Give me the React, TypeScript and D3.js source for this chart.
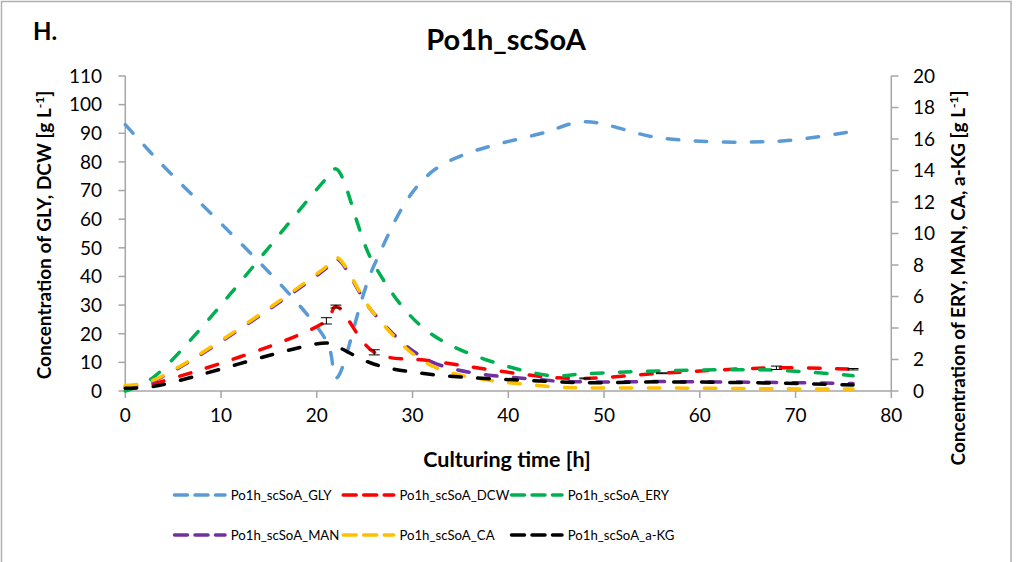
import React from "react";
import * as d3 from "d3";

const times = [0, 3, 21, 22, 26, 32, 44, 48, 56, 68, 76];
const gly = [93, 82, 17.5, 4.5, 44, 76.5, 90.5, 94, 88.3, 87.2, 90.7];
const dcw = [1, 2.6, 24.5, 29.5, 13.5, 10.5, 4.9, 4.4, 6.2, 8.1, 7.6];
const dcwErr = [0, 0, 1.1, 0.5, 0.9, 0, 0, 0.15, 0.15, 0.6, 0.25];
const ery = [0, 0.9, 13.5, 14.1, 8.0, 3.6, 1.0, 1.1, 1.28, 1.32, 0.97];
const man = [0.3, 0.65, 7.8, 8.4, 4.9, 1.85, 0.68, 0.58, 0.6, 0.54, 0.47];
const ca = [0.35, 0.7, 7.9, 8.5, 4.9, 1.6, 0.3, 0.2, 0.19, 0.14, 0.12];
const akg = [0.17, 0.3, 3.05, 2.85, 1.7, 1.05, 0.62, 0.53, 0.58, 0.5, 0.38];

const xTicks = [0, 10, 20, 30, 40, 50, 60, 70, 80];
const leftTicks = [0, 10, 20, 30, 40, 50, 60, 70, 80, 90, 100, 110];
const rightTicks = [0, 2, 4, 6, 8, 10, 12, 14, 16, 18, 20];

const seriesDefs = [
  { name: "Po1h_scSoA_GLY", values: gly, axis: "left", color: "#5B9BD5" },
  { name: "Po1h_scSoA_DCW", values: dcw, axis: "left", color: "#FF0000" },
  { name: "Po1h_scSoA_ERY", values: ery, axis: "right", color: "#00B050" },
  { name: "Po1h_scSoA_MAN", values: man, axis: "right", color: "#7030A0" },
  { name: "Po1h_scSoA_CA", values: ca, axis: "right", color: "#FFC000" },
  { name: "Po1h_scSoA_a-KG", values: akg, axis: "right", color: "#000000" },
];

const FONT = "Lato, 'Liberation Sans', sans-serif";
const AXIS = "#a6a6a6";

export default function App() {
  const x = d3.scaleLinear().domain([0, 80]).range([125.3, 891.3]);
  const yL = d3.scaleLinear().domain([0, 110]).range([391, 76]);
  const yR = d3.scaleLinear().domain([0, 20]).range([391, 76]);

  const mkLine = (ys: d3.ScaleLinear<number, number>) =>
    d3
      .line<[number, number]>()
      .x((d) => x(d[0]))
      .y((d) => ys(d[1]))
      .curve(d3.curveCatmullRom.alpha(0.5));

  const legendCols = [173, 341.7, 510];
  const legendRows = [495, 535];

  return (
    <svg
      width={1016}
      height={562}
      style={{ position: "absolute", left: 0, top: 0, background: "#fff" }}
      fontFamily={FONT}
    >
      <rect x={0} y={0} width={1016} height={562} fill="#fff" />
      <rect x={1.5} y={1.5} width={1009.5} height={575} fill="none" stroke="#b0b0b0" strokeWidth={1.5} />

      <text x={33} y={40} fontSize={24} fontWeight="bold">H.</text>
      <text x={506} y={50} fontSize={29} fontWeight="bold" textAnchor="middle">Po1h_scSoA</text>

      {/* axes */}
      <line x1={125.3} y1={76} x2={125.3} y2={391} stroke={AXIS} strokeWidth={1.5} />
      <line x1={891.3} y1={76} x2={891.3} y2={391} stroke={AXIS} strokeWidth={1.5} />
      <line x1={125.3} y1={391} x2={891.3} y2={391} stroke={AXIS} strokeWidth={1.5} />
      {leftTicks.map((t) => (
        <g key={"l" + t}>
          <line x1={118.5} x2={125.3} y1={yL(t)} y2={yL(t)} stroke={AXIS} strokeWidth={1.5} />
          <text x={102} y={yL(t) + 6.8} fontSize={19} textAnchor="end">{t}</text>
        </g>
      ))}
      {rightTicks.map((t) => (
        <g key={"r" + t}>
          <line x1={891.3} x2={898.5} y1={yR(t)} y2={yR(t)} stroke={AXIS} strokeWidth={1.5} />
          <text x={913} y={yR(t) + 6.8} fontSize={19} textAnchor="start">{t}</text>
        </g>
      ))}
      {xTicks.map((t) => (
        <g key={"x" + t}>
          <line x1={x(t)} x2={x(t)} y1={391} y2={398} stroke={AXIS} strokeWidth={1.5} />
          <text x={x(t)} y={422} fontSize={19} textAnchor="middle">{t}</text>
        </g>
      ))}

      {/* axis titles */}
      <text x={507} y={467} fontSize={21.5} fontWeight="bold" textAnchor="middle">Culturing time [h]</text>
      <text transform="translate(51,235) rotate(-90)" fontSize={19} fontWeight="bold" textAnchor="middle">
        Concentration of GLY, DCW [g L<tspan dy={-7} fontSize={12}>-1</tspan><tspan dy={7}>]</tspan>
      </text>
      <text transform="translate(965,278) rotate(-90)" fontSize={19} fontWeight="bold" textAnchor="middle">
        Concentration of ERY, MAN, CA, a-KG [g L<tspan dy={-7} fontSize={12}>-1</tspan><tspan dy={7}>]</tspan>
      </text>

      {/* series */}
      {seriesDefs.map((s) => {
        const pts = times.map((t, i) => [t, s.values[i]] as [number, number]);
        const gen = mkLine(s.axis === "left" ? yL : yR);
        return (
          <path
            key={s.name}
            d={gen(pts) || ""}
            fill="none"
            stroke={s.color}
            strokeWidth={3.5}
            strokeDasharray="11.5 16.5"
            strokeLinecap="round"
          />
        );
      })}

      {/* DCW error bars */}
      {times.map((t, i) =>
        dcwErr[i] > 0 ? (
          <g key={"e" + i} stroke="#000" strokeWidth={1}>
            <line x1={x(t)} x2={x(t)} y1={yL(dcw[i] - dcwErr[i])} y2={yL(dcw[i] + dcwErr[i])} />
            <line x1={x(t) - 5.5} x2={x(t) + 5.5} y1={yL(dcw[i] - dcwErr[i])} y2={yL(dcw[i] - dcwErr[i])} />
            <line x1={x(t) - 5.5} x2={x(t) + 5.5} y1={yL(dcw[i] + dcwErr[i])} y2={yL(dcw[i] + dcwErr[i])} />
          </g>
        ) : null
      )}

      {/* legend */}
      {seriesDefs.map((s, i) => {
        const lx = legendCols[i % 3];
        const ly = legendRows[Math.floor(i / 3)];
        return (
          <g key={"lg" + s.name}>
            <line x1={lx + 1.5} x2={lx + 52} y1={ly} y2={ly} stroke={s.color} strokeWidth={3.5}
              strokeDasharray="13 7.5" strokeLinecap="round" />
            <text x={lx + 57.7} y={ly + 5} fontSize={13.2}>{s.name}</text>
          </g>
        );
      })}
    </svg>
  );
}
